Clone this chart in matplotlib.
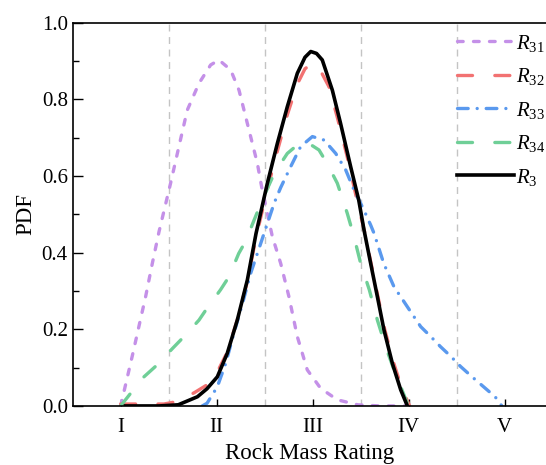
import matplotlib.pyplot as plt
from matplotlib.ticker import MultipleLocator

plt.rcParams['font.family'] = 'Liberation Serif'
plt.rcParams['mathtext.fontset'] = 'custom'
plt.rcParams['mathtext.rm'] = 'Liberation Serif'
plt.rcParams['mathtext.it'] = 'Liberation Serif:italic'
plt.rcParams['font.size'] = 15

# rock mass rating classes
grades = ['I', 'II', 'III', 'IV', 'V']
grade_pos = [1, 2, 3, 4, 5]
bounds = [1.5, 2.5, 3.5, 4.5]

# values
x31 = [1.0, 1.12, 1.19, 1.26, 1.33, 1.40, 1.52, 1.607, 1.694, 1.816, 1.9375, 2.024, 2.146, 2.233,
       2.285, 2.354, 2.424, 2.47, 2.58, 2.667, 2.753, 2.84, 2.944, 3.083, 3.257, 3.47, 3.7, 4.0]
y31 = [0.0, 0.129, 0.207, 0.285, 0.372, 0.455, 0.581, 0.677, 0.772, 0.842, 0.89, 0.903, 0.877, 0.824,
       0.772, 0.703, 0.633, 0.57, 0.442, 0.372, 0.285, 0.181, 0.094, 0.046, 0.016, 0.003, 0.0, 0.0]

x32 = [1.0, 1.2, 1.45, 1.6, 1.77, 1.9, 2.0, 2.11, 2.215, 2.32, 2.41, 2.528, 2.632, 2.736, 2.84, 2.92,
       2.99, 3.06, 3.17, 3.26, 3.36, 3.45, 3.54, 3.61, 3.68, 3.75, 3.84, 3.93, 4.01]
y32 = [0.005, 0.005, 0.005, 0.012, 0.035, 0.055, 0.085, 0.14, 0.225, 0.325, 0.44, 0.565, 0.665, 0.76,
       0.84, 0.88, 0.893, 0.885, 0.833, 0.75, 0.65, 0.55, 0.455, 0.37, 0.285, 0.2, 0.115, 0.045, 0.0]

x33 = [1.85, 1.90, 2.007, 2.094, 2.18, 2.27, 2.354, 2.44, 2.52, 2.6, 2.667, 2.77, 2.875, 2.997, 3.118,
       3.24, 3.344, 3.43, 3.534, 3.604, 3.64, 3.74, 3.847, 3.93, 4.02, 4.125, 4.23, 4.33, 4.44, 4.54,
       4.66, 4.78, 4.9, 4.97]
y33 = [0.0, 0.007, 0.05, 0.111, 0.19, 0.268, 0.346, 0.41, 0.47, 0.53, 0.57, 0.624, 0.677, 0.703, 0.694,
       0.659, 0.616, 0.564, 0.511, 0.472, 0.45, 0.372, 0.311, 0.28, 0.246, 0.207, 0.181, 0.155, 0.129,
       0.103, 0.076, 0.05, 0.024, 0.0]

x34 = [1.0, 1.104, 1.243, 1.38, 1.54, 1.66, 1.816, 1.9, 2.04, 2.128, 2.23, 2.30, 2.39, 2.49, 2.6,
       2.736, 2.84, 2.93, 3.066, 3.15, 3.257, 3.36, 3.43, 3.5, 3.59, 3.674, 3.76, 3.847, 3.93, 3.986, 4.08]
y34 = [0.0, 0.033, 0.076, 0.107, 0.15, 0.181, 0.224, 0.255, 0.303, 0.337, 0.398, 0.429, 0.485, 0.546,
       0.607, 0.659, 0.681, 0.69, 0.668, 0.633, 0.581, 0.503, 0.442, 0.372, 0.303, 0.224, 0.155, 0.094,
       0.042, 0.007, 0.0]

x3 = [1.05, 1.4, 1.6, 1.8, 1.9, 2.007, 2.11, 2.215, 2.32, 2.41, 2.528, 2.632, 2.736, 2.84, 2.92, 2.98,
      3.04, 3.10, 3.205, 3.29, 3.396, 3.48, 3.535, 3.604, 3.674, 3.743, 3.83, 3.917, 3.986]
y3 = [0.0, 0.0, 0.003, 0.024, 0.045, 0.076, 0.137, 0.224, 0.329, 0.45, 0.581, 0.685, 0.781, 0.868, 0.91,
      0.925, 0.92, 0.903, 0.824, 0.738, 0.624, 0.537, 0.459, 0.372, 0.285, 0.198, 0.111, 0.042, 0.0]

fig = plt.figure(figsize=(5.46, 4.65), dpi=100)
ax = fig.add_axes([0.133, 0.127, 0.867, 0.824])

for b in bounds:
    ax.axvline(b, color='#c4c4c4', lw=1.0, ls=(0, (5, 4)), zorder=0)

kw = dict(lw=2.4, dash_capstyle='round')
ax.plot(x31, y31, color='#c490e8', ls=(0, (1.7, 3.1)), label='$R_{31}$', **kw)
ax.plot(x32, y32, color='#f27272', ls=(0, (4.5, 6.7)), label='$R_{32}$', **kw)
ax.plot(x33, y33, color='#5a99ee', ls=(0, (3.2, 2.7, 0.01, 2.7)), label='$R_{33}$', **kw)
ax.plot(x34, y34, color='#6fcf97', ls=(0, (4.5, 6.7)), label='$R_{34}$', **kw)
ax.plot(x3, y3, color='black', lw=2.6, label='$R_{3}$')

ax.set_xlim(0.5, 5.43)
ax.set_ylim(0, 1.0)
ax.set_xticks(grade_pos)
ax.set_xticklabels(grades)
ax.yaxis.set_major_locator(MultipleLocator(0.2))
ax.yaxis.set_minor_locator(MultipleLocator(0.1))
ax.yaxis.set_major_formatter(plt.FormatStrFormatter('%.1f'))
ax.tick_params(axis='y', which='major', direction='in', length=7, width=1, labelsize=15)
ax.tick_params(axis='y', which='minor', direction='in', length=4, width=1)
ax.tick_params(axis='x', which='major', direction='in', length=5, width=1, pad=9, labelsize=15)
ax.spines['right'].set_visible(False)
for s in ['left', 'bottom', 'top']:
    ax.spines[s].set_linewidth(1.2)

ax.set_xlabel('Rock Mass Rating', fontsize=16.5, labelpad=4)
ax.set_ylabel('PDF', fontsize=16.5, labelpad=4)

ax.legend(loc='upper right', bbox_to_anchor=(1.008, 0.985), frameon=False, handlelength=2.75,
          labelspacing=0.6, handletextpad=0.1, borderpad=0.2, borderaxespad=0.0, fontsize=15)

fig.savefig('out.png', dpi=100)
